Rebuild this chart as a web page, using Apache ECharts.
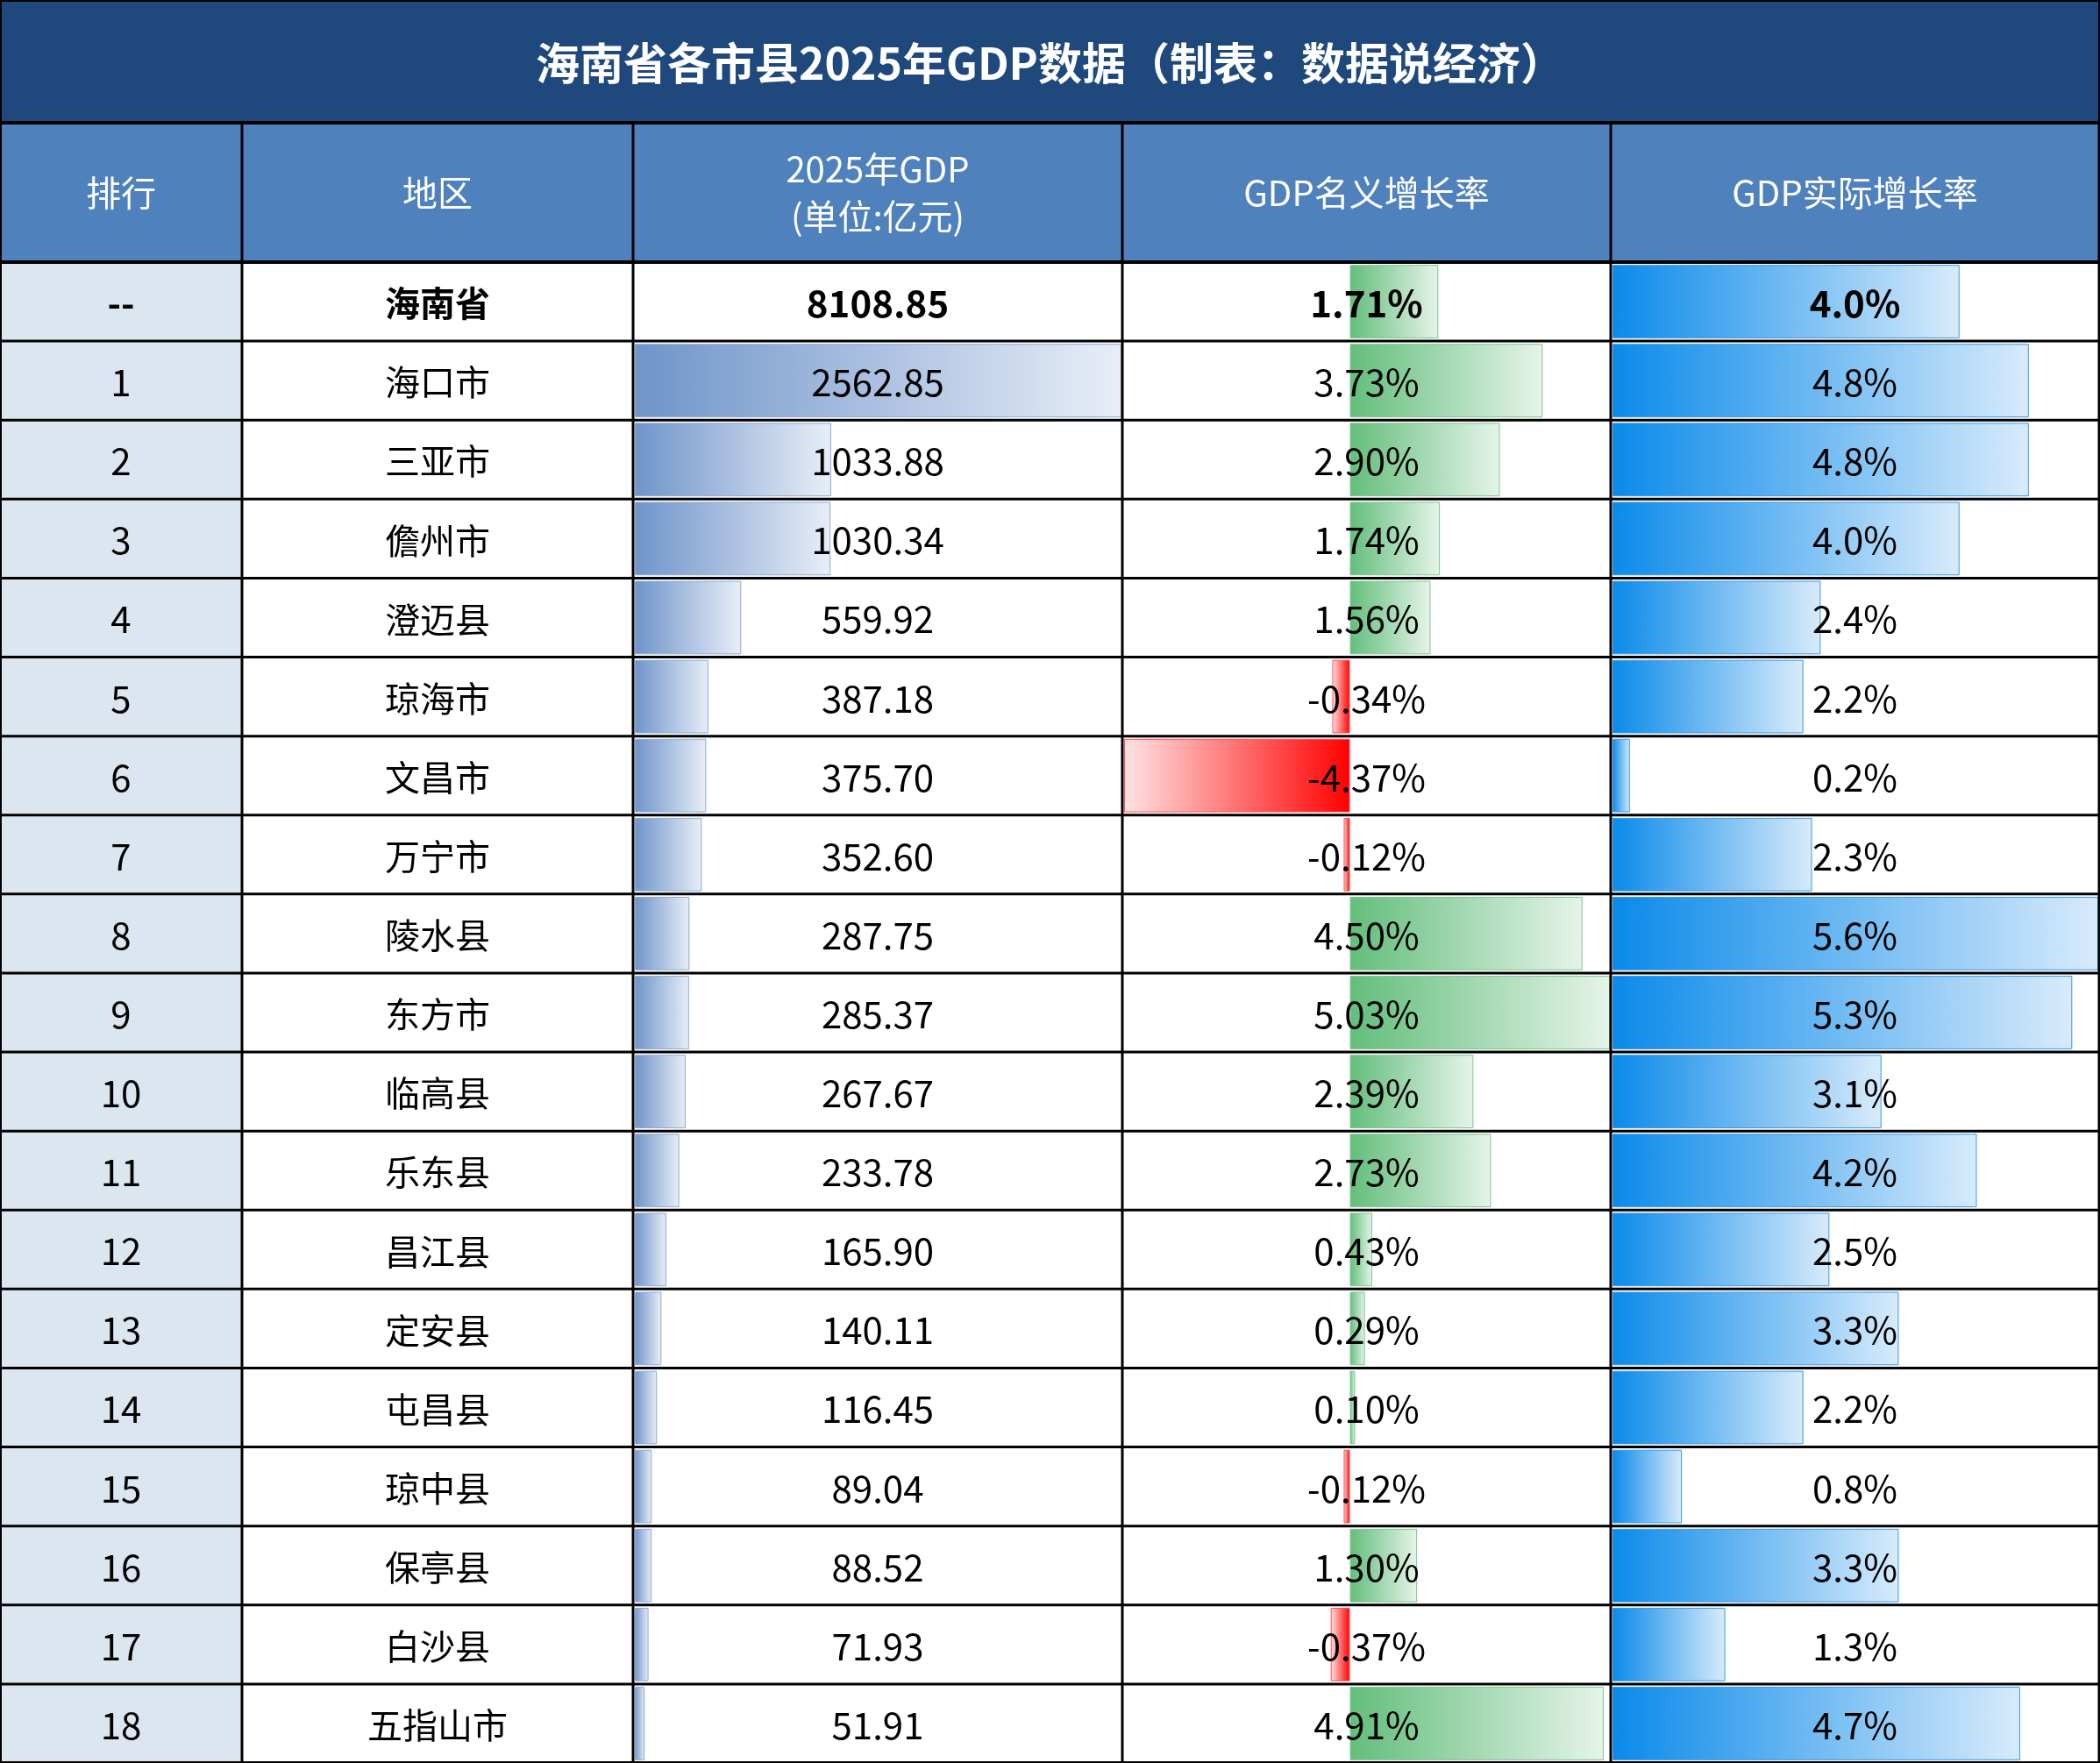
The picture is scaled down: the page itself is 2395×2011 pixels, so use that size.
<!DOCTYPE html>
<html><head><meta charset="utf-8">
<script src="https://cdn.jsdelivr.net/npm/echarts@6/dist/echarts.min.js"></script>
<style>html,body{margin:0;padding:0;background:#fff}#c{width:2395px;height:2011px}</style>
</head><body><div id="c"></div>
<script>
const title = '海南省各市县2025年GDP数据（制表：数据说经济）';
const headers = ['排行','地区','2025年GDP\n(单位:亿元)','GDP名义增长率','GDP实际增长率'];
const ranks = ['--','1','2','3','4','5','6','7','8','9','10','11','12','13','14','15','16','17','18'];
const regions = ['海南省','海口市','三亚市','儋州市','澄迈县','琼海市','文昌市','万宁市','陵水县','东方市','临高县','乐东县','昌江县','定安县','屯昌县','琼中县','保亭县','白沙县','五指山市'];
const gdp = [8108.85,2562.85,1033.88,1030.34,559.92,387.18,375.70,352.60,287.75,285.37,267.67,233.78,165.90,140.11,116.45,89.04,88.52,71.93,51.91];
const nominal = [1.71,3.73,2.90,1.74,1.56,-0.34,-4.37,-0.12,4.50,5.03,2.39,2.73,0.43,0.29,0.10,-0.12,1.30,-0.37,4.91];
const real = [4.0,4.8,4.8,4.0,2.4,2.2,0.2,2.3,5.6,5.3,3.1,4.2,2.5,3.3,2.2,0.8,3.3,1.3,4.7];

const W=2395, colX=[0,276,722,1280,1837,2394], titleH=140, headH=299, rowH=(2011-299)/19;
const chart = echarts.init(document.getElementById('c'));
const lin=(a,b)=>new echarts.graphic.LinearGradient(0,0,1,0,[{offset:0,color:a},{offset:1,color:b}]);
const g=[]; 
g.push({type:'rect',shape:{x:0,y:0,width:W,height:titleH},style:{fill:'#1f497d'},z:0});
g.push({type:'rect',shape:{x:0,y:titleH,width:W,height:headH-titleH},style:{fill:'#4f81bd'},z:0});
g.push({type:'rect',shape:{x:0,y:headH,width:colX[1],height:2011-headH},style:{fill:'#dce6f1'},z:0});
g.push({type:'text',x:W/2,y:titleH/2+2,style:{text:title,fill:'#fff',font:'bold 50px "Noto Sans CJK SC"',align:'center',verticalAlign:'middle'},z:10});
headers.forEach((h,i)=>g.push({type:'text',x:(colX[i]+colX[i+1])/2,y:(titleH+headH)/2,style:{text:h,fill:'#fff',font:'40px "Noto Sans CJK SC"',align:'center',verticalAlign:'middle',lineHeight:54},z:10}));
const numFont='42px "Liberation Sans Narrow","Noto Sans CJK SC"';
for(let r=0;r<19;r++){
  const cy=headH+rowH*(r+0.5), b=r===0?'bold ':'';
  const cells=[ranks[r],regions[r],gdp[r].toFixed(2),nominal[r].toFixed(2)+'%',real[r].toFixed(1)+'%'];
  cells.forEach((t,i)=>g.push({type:'text',x:(colX[i]+colX[i+1])/2,y:cy+2,style:{text:t,fill:'#000',font:b+(i===1?'40px "Noto Sans CJK SC"':numFont),align:'center',verticalAlign:'middle'},z:10}));
}
// grid lines
g.push({type:'line',shape:{x1:0,y1:titleH,x2:W,y2:titleH},style:{stroke:'#000',lineWidth:4},z:20});
for(let r=0;r<=19;r++){const y=headH+rowH*r;g.push({type:'line',shape:{x1:0,y1:y,x2:W,y2:y},style:{stroke:'#000',lineWidth:r===0?4:3},z:20});}
colX.forEach((x,i)=>g.push({type:'line',shape:{x1:x,y1:titleH,x2:x,y2:2011},style:{stroke:'#000',lineWidth:3},z:20}));
g.push({type:'rect',shape:{x:1,y:1,width:W-2,height:2009},style:{fill:null,stroke:'#000',lineWidth:2},z:20});

const cats=regions.map((_,i)=>String(i));
const mkGrid=(i)=>({left:colX[i]+2,width:colX[i+1]-colX[i]-3,top:headH,height:2011-headH});
const grids=[mkGrid(2),mkGrid(3),mkGrid(4)];
const xAxes=[{gridIndex:0,type:'value',min:0,max:2562.85,show:false},{gridIndex:1,type:'value',min:-4.37,max:5.03,show:false},{gridIndex:2,type:'value',min:0,max:5.6,show:false}];
const yAxes=[0,1,2].map(i=>({gridIndex:i,type:'category',data:cats,inverse:true,show:false}));
const gdpData=gdp.map((v,i)=>i===0?null:{value:v,itemStyle:{color:lin('#6f94ca','#e8eef7'),borderColor:'#8eaad4',borderWidth:1}});
const nomData=nominal.map(v=>({value:v,itemStyle:v>=0?{color:lin('#63be7b','#e6f4ea'),borderColor:'#7cc790',borderWidth:1}:{color:lin('#ffe3e3','#ff0000'),borderColor:'#ff5050',borderWidth:1}}));
const realData=real.map(v=>({value:v,itemStyle:{color:lin('#0a8aea','#d8ebfb'),borderColor:'#3a9ae8',borderWidth:1}}));
const ser=(i,d)=>({type:'bar',xAxisIndex:i,yAxisIndex:i,data:d,barWidth:'93%',silent:true,animation:false,z:2});
chart.setOption({animation:false,grid:grids,xAxis:xAxes,yAxis:yAxes,series:[ser(0,gdpData),ser(1,nomData),ser(2,realData)],graphic:g});
</script></body></html>
